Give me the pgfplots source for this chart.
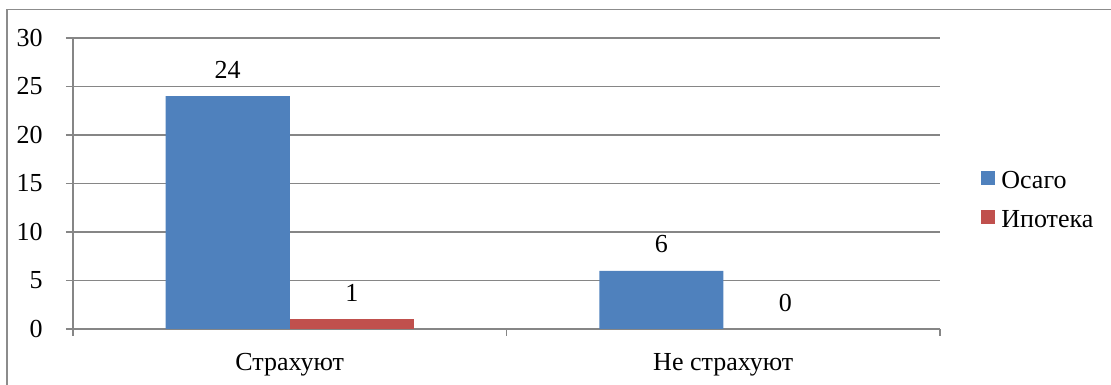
\documentclass[border=0pt]{standalone}
\usepackage{pgfplots}
\pgfplotsset{compat=1.18}
\usepackage{fontspec}
\setmainfont{Liberation Serif}
\definecolor{cblue}{RGB}{79,129,189}
\definecolor{cred}{RGB}{192,80,77}
\definecolor{cgrid}{RGB}{134,134,134}
\definecolor{cframe}{RGB}{140,140,140}
\newcommand{\cf}{\fontsize{19.5}{22}\selectfont}
\begin{document}
\begin{tikzpicture}
\path[use as bounding box] (0,0) rectangle (833.25pt,288.75pt);
\draw[cframe, line width=1pt] (5.25pt,0) -- (5.25pt,281.8pt) -- (833.25pt,281.8pt);
\begin{axis}[
  at={(54.75pt,42pt)}, anchor=south west,
  scale only axis, width=650.25pt, height=218.25pt,
  xmin=-0.5, xmax=1.5, ymin=0, ymax=30,
  ybar=0pt, bar width=93pt,
  axis x line*=bottom, axis y line*=left,
  axis line style={cgrid, line width=0.9pt, -},
  ytick={0,5,...,30},
  ymajorgrids, grid style={cgrid, line width=0.9pt},
  tick align=outside, major tick length=5.25pt,
  tick style={cgrid, line width=0.9pt},
  xtick={-0.5,0.5,1.5}, xticklabels={},
  extra x ticks={0,1}, extra x tick labels={Страхуют, Не страхуют},
  extra x tick style={major tick length=0pt},
  /pgf/number format/assume math mode=true,
  ticklabel style={font=\cf},
  yticklabel style={anchor=east, inner sep=0pt, xshift=-17.25pt},
  xticklabel style={anchor=north, inner sep=0pt, yshift=-18pt},
  nodes near coords,
  every node near coord/.append style={font=\cf, anchor=south, inner sep=0pt, yshift=13pt, text=black},
  legend style={at={(1.042,0.443)}, anchor=west, draw=none, fill=none, font=\cf, row sep=11pt},
  legend cell align=left,
]
\addplot[fill=cblue, draw=none, area legend, bar shift=-46.5pt,
  legend image code/.code={\fill[cblue] (0pt,-3pt) rectangle (10.5pt,7.5pt); \path (13.5pt,0pt);}]
  coordinates {(0,24) (1,6)};
\addplot[fill=cred, draw=none, area legend, bar shift=46.5pt,
  legend image code/.code={\fill[cred] (0pt,-3pt) rectangle (10.5pt,7.5pt); \path (13.5pt,0pt);}]
  coordinates {(0,1)};
\addplot[fill=none, draw=none, bar shift=46.5pt, forget plot]
  coordinates {(1,0)};
\legend{Осаго, Ипотека}
\end{axis}
\end{tikzpicture}
\end{document}
